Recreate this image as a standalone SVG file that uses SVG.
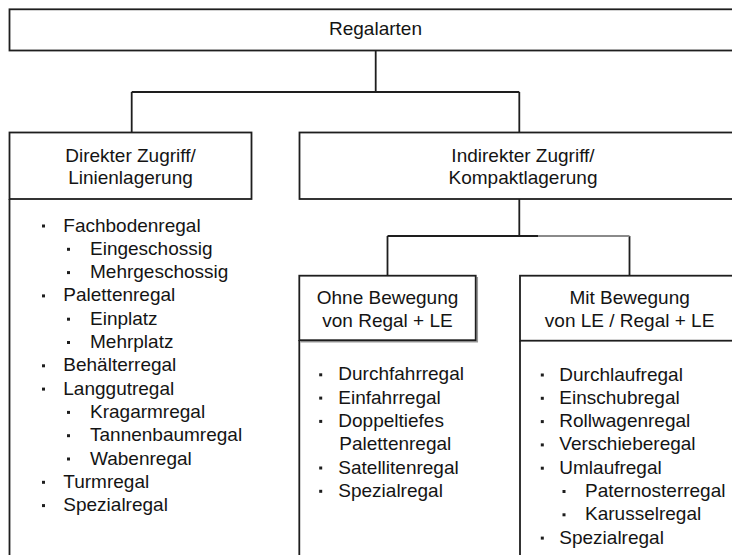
<svg xmlns="http://www.w3.org/2000/svg" width="732" height="555" viewBox="0 0 732 555">
<style>
.box{fill:#fff;stroke:#1e1e1e;stroke-width:1.8}
.ln{fill:none;stroke:#1e1e1e;stroke-width:1.8}
.t{font-family:"Liberation Sans",Arial,sans-serif;font-size:19px;fill:#141414}
.c{text-anchor:middle}
.b{fill:#1e1e1e}
</style>
<rect width="732" height="555" fill="#fff"/>
<g id="connectors">
<path class="ln" d="M375.7,50.5 V92 M131.7,92 H519.3 M131.7,92 V132.5 M519.3,92 V132.5"/>
<path class="ln" d="M519.3,199 V236 M387.5,236 H538 M387.5,236 V275.7 M629.5,236 V275.7"/>
<path fill="none" stroke="#8a8a8a" stroke-width="1.8" d="M538,236 H629.5"/>
</g>
<g id="regalarten">
<rect class="box" x="9.5" y="9.3" width="740" height="41.2"/>
<text class="t c" x="375.5" y="35">Regalarten</text>
</g>
<g id="direkter">
<rect class="box" x="9.5" y="132.5" width="242" height="66.5"/>
<text class="t c" x="130.5" y="161.5">Direkter Zugriff/</text>
<text class="t c" x="130.5" y="184">Linienlagerung</text>
<path class="ln" d="M9.5,199 V556"/>
<g class="t">
<text x="63.3" y="231.5">Fachbodenregal</text>
<text x="90" y="254.8">Eingeschossig</text>
<text x="90" y="278.1">Mehrgeschossig</text>
<text x="63.3" y="301.4">Palettenregal</text>
<text x="90" y="324.7">Einplatz</text>
<text x="90" y="348">Mehrplatz</text>
<text x="63.3" y="371.3">Behälterregal</text>
<text x="63.3" y="394.6">Langgutregal</text>
<text x="90" y="417.9">Kragarmregal</text>
<text x="90" y="441.2">Tannenbaumregal</text>
<text x="90" y="464.5">Wabenregal</text>
<text x="63.3" y="487.8">Turmregal</text>
<text x="63.3" y="511.1">Spezialregal</text>
</g>
<g class="b">
<rect x="42" y="224.5" width="3" height="3"/>
<rect x="67" y="247.8" width="3" height="3"/>
<rect x="67" y="271.1" width="3" height="3"/>
<rect x="42" y="294.4" width="3" height="3"/>
<rect x="67" y="317.7" width="3" height="3"/>
<rect x="67" y="341" width="3" height="3"/>
<rect x="42" y="364.3" width="3" height="3"/>
<rect x="42" y="387.6" width="3" height="3"/>
<rect x="67" y="410.9" width="3" height="3"/>
<rect x="67" y="434.2" width="3" height="3"/>
<rect x="67" y="457.5" width="3" height="3"/>
<rect x="42" y="480.8" width="3" height="3"/>
<rect x="42" y="504.1" width="3" height="3"/>
</g>
</g>
<g id="indirekter">
<rect class="box" x="299.5" y="132.5" width="460" height="66.5"/>
<text class="t c" x="523" y="161.7">Indirekter Zugriff/</text>
<text class="t c" x="523" y="183.5">Kompaktlagerung</text>
</g>
<g id="ohne">
<path fill="none" stroke="#9a9a9a" stroke-width="1.5" d="M477.3,277 V341.8 H300.5"/>
<rect class="box" x="299.3" y="275.7" width="176.4" height="64.5"/>
<text class="t c" x="387.5" y="304">Ohne Bewegung</text>
<text class="t c" x="387.5" y="326.7">von Regal + LE</text>
<path class="ln" d="M299.3,340 V556"/>
<g class="t">
<text x="338.3" y="380.3">Durchfahrregal</text>
<text x="338.3" y="403.6">Einfahrregal</text>
<text x="338.3" y="426.9">Doppeltiefes</text>
<text x="339.3" y="450.2">Palettenregal</text>
<text x="338.3" y="473.5">Satellitenregal</text>
<text x="338.3" y="496.8">Spezialregal</text>
</g>
<g class="b">
<rect x="319.2" y="373.3" width="3" height="3"/>
<rect x="319.2" y="396.6" width="3" height="3"/>
<rect x="319.2" y="419.9" width="3" height="3"/>
<rect x="319.2" y="466.5" width="3" height="3"/>
<rect x="319.2" y="489.8" width="3" height="3"/>
</g>
</g>
<g id="mit">
<rect class="box" x="520" y="275.7" width="240" height="65"/>
<text class="t c" x="629.6" y="304">Mit Bewegung</text>
<text class="t c" x="629.6" y="327">von LE / Regal + LE</text>
<path class="ln" d="M520,340.7 V556"/>
<g class="t">
<text x="559.3" y="380.5">Durchlaufregal</text>
<text x="559.3" y="403.8">Einschubregal</text>
<text x="559.3" y="427.1">Rollwagenregal</text>
<text x="559.3" y="450.4">Verschieberegal</text>
<text x="559.3" y="473.7">Umlaufregal</text>
<text x="585" y="497">Paternosterregal</text>
<text x="585" y="520.3">Karusselregal</text>
<text x="559.3" y="543.6">Spezialregal</text>
</g>
<g class="b">
<rect x="540.8" y="373.5" width="3" height="3"/>
<rect x="540.8" y="396.8" width="3" height="3"/>
<rect x="540.8" y="420.1" width="3" height="3"/>
<rect x="540.8" y="443.4" width="3" height="3"/>
<rect x="540.8" y="466.7" width="3" height="3"/>
<rect x="562.5" y="490" width="3" height="3"/>
<rect x="562.5" y="513.3" width="3" height="3"/>
<rect x="540.8" y="536.6" width="3" height="3"/>
</g>
</g>
</svg>
